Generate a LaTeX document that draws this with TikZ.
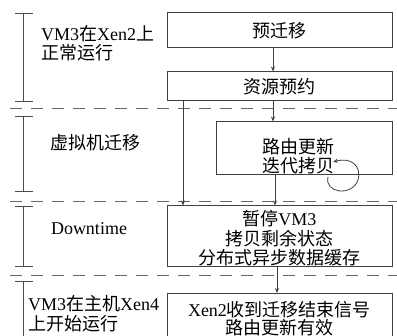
\documentclass[tikz,border=0pt]{standalone}
\usepackage{fontspec}
\setmainfont{Liberation Serif}
\newfontfamily\cjk{Noto Sans CJK SC}
\newcommand{\zh}[1]{{\cjk #1}}
\usetikzlibrary{arrows.meta}

\tikzset{
  stagebox/.style={draw=black!75, line width=1pt, minimum width=225pt, inner sep=0pt, align=center},
  phase/.style={inner sep=0pt, align=left},
  flow/.style={draw=black!75, line width=0.8pt, ->},
  sep/.style={draw=black!60, line width=0.9pt, dash pattern=on 12pt off 9pt},
  span/.style={draw=black!70, line width=0.9pt},
}

\begin{document}
\begin{tikzpicture}[x=1pt, y=-1pt, >={Stealth[length=5pt,width=4pt]}, font=\fontsize{18}{19.5}\selectfont]
    \useasboundingbox (0,0) rectangle (397,336);
    \clip (0,0) rectangle (397,336);

    % Stage boxes
    \node[stagebox, minimum height=35pt] (pre) at (279.5,30.5) {\zh{预迁移}};
    \node[stagebox, minimum height=29pt] (res) at (279.5,86.5) {\zh{资源预约}};
    \node[stagebox, minimum width=176pt, minimum height=53pt, font=\fontsize{18}{18.5}\selectfont] (mig) at (304,148.5)
        {\rule{0pt}{30pt}\zh{路由更新}\hspace*{12pt}\\ \zh{迭代拷贝}\hspace*{12pt}};
    \node[stagebox, minimum height=61pt] (down) at (279.5,236.5)
        {\rule{0pt}{19pt}\zh{暂停}VM3\\ \zh{拷贝剩余状态}\\ \zh{分布式异步数据缓存}};
    \node[stagebox, minimum height=50pt, anchor=north, font=\fontsize{18}{18.5}\selectfont] (xen) at (279.5,293)
        {Xen2\zh{收到迁移结束信号}\\ \zh{路由更新有效}};

    % Phase labels
    \node[phase, anchor=west] (ph1) at (41,43) {VM3\zh{在}Xen2\zh{上}\\ \zh{正常运行}};
    \node[phase] (ph2) at (95.5,143) {\zh{虚拟机迁移}};
    \node[phase] (ph3) at (89,229) {Downtime};
    \node[phase, anchor=west] (ph4) at (28,313.5) {VM3\zh{在主机}Xen4\\ \zh{上开始运行}};

    % Time spans on the left
    \foreach \ya/\yb in {13/101, 116/191, 206/266} {
        \draw[span] (23.5,\ya) -- (23.5,\yb);
        \draw[span] (15,\ya) -- (33,\ya);
        \draw[span] (15,\yb) -- (33,\yb);
    }
    \draw[span] (15,281) -- (33,281);
    \draw[span] (23.5,281) -- (23.5,340);

    % Phase separators
    \foreach \y in {108,201,275}
        \draw[sep] (10,\y) -- (397,\y);

    % Flow arrows
    \draw[flow] ([xshift=-6.5pt]pre.south) -- ([xshift=-6.5pt]pre.south |- res.north);
    \draw[flow] ([xshift=-6.5pt]res.south) -- ([xshift=-6.5pt]res.south |- mig.north);
    \draw[flow] ([xshift=-96.5pt]res.south) -- ([xshift=-96.5pt]res.south |- down.north);
    \draw[flow] ([xshift=-29pt]mig.south) -- ([xshift=-29pt]mig.south |- down.north);
    \draw[flow] ([xshift=-2.5pt]down.south) -- ([xshift=-2.5pt]down.south |- xen.north);

    % Iteration loop
    \coordinate (loopa) at (328,177);
    \coordinate (loopb) at (333,162);
    \draw[flow] (loopa) .. controls (324,193) and (352,197) .. (358,180)
        .. controls (362,165) and (350,157) .. (loopb);
\end{tikzpicture}
\end{document}
